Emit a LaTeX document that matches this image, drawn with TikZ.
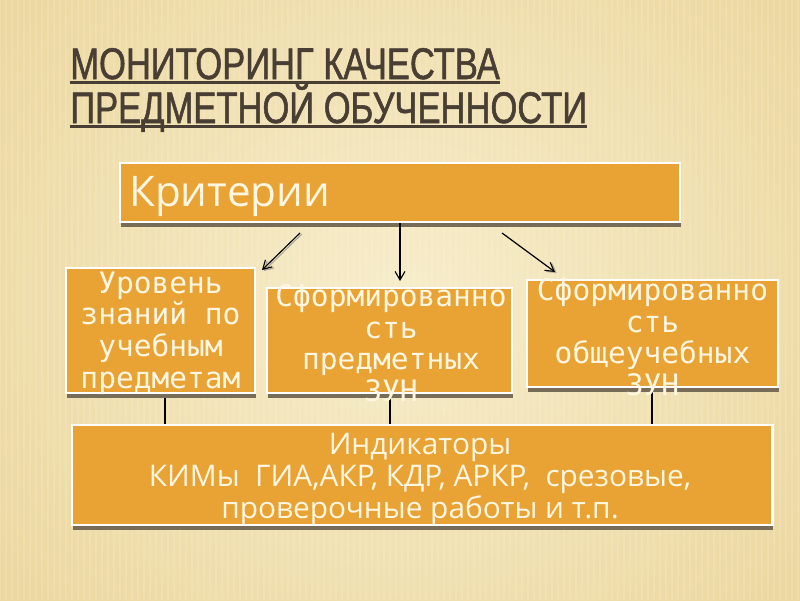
\documentclass[tikz,border=0pt]{standalone}
\usepackage{fontspec}
\usetikzlibrary{arrows.meta,shadows,calc}
\newfontfamily\titlefont[FakeStretch=0.78,FakeBold=1.2]{Liberation Sans}
\newfontfamily\boxfont{DejaVu Sans Mono}
\newfontfamily\osfont{Open Sans}
\definecolor{bgin}{RGB}{247,237,202}
\definecolor{bgout}{RGB}{236,216,160}
\definecolor{orangec}{RGB}{233,162,52}
\definecolor{titlec}{RGB}{72,62,52}
\definecolor{shadowc}{RGB}{118,108,88}
\definecolor{textc}{RGB}{253,246,225}
\begin{document}
\begin{tikzpicture}[x=0.025cm,y=-0.025cm,
  box/.style={draw=white, line width=2pt, fill=orangec,
    drop shadow={shadow xshift=0.8pt, shadow yshift=-3.8pt, fill=shadowc, opacity=1},
    inner sep=0pt},
  btext/.style={text=textc, align=center, inner sep=0pt,
    font=\boxfont\fontsize{21}{22.5}\selectfont},
  itext/.style={text=textc, align=center, inner sep=0pt,
    font=\osfont\fontsize{21.2}{22.8}\selectfont},
  ttext/.style={anchor=base west, inner sep=0pt, text=titlec,
    font=\titlefont\fontsize{31.5}{34}\selectfont},
  uline/.style={titlec, line width=2.1pt},
  conn/.style={black, line width=0.8pt},
  arr/.style={conn, -{Straight Barb[length=6pt,width=7pt]}},
  arrsh/.style={shadowc!60, line width=0.8pt, -{Straight Barb[length=6pt,width=7pt]},
    transform canvas={xshift=1.2pt,yshift=-0.8pt}}
]
\useasboundingbox (0,0) rectangle (800,600);
\shade[inner color=bgin, outer color=bgout] (-100,-150) rectangle (900,750);
\foreach \i in {0,6,...,800} {\draw[white, opacity=0.12, line width=1pt] (\i,0) -- (\i,600);}

% title
\node[ttext] (ti1) at (70,79) {МОНИТОРИНГ КАЧЕСТВА};
\node[ttext] (ti2) at (70,123) {ПРЕДМЕТНОЙ ОБУЧЕННОСТИ};
\draw[uline] ([yshift=-2.6pt]ti1.base west) -- ([yshift=-2.6pt]ti1.base east);
\draw[uline] ([yshift=-2.6pt]ti2.base west) -- ([yshift=-2.6pt]ti2.base east);

% boxes
\node[box, minimum width=14cm, minimum height=1.475cm] (crit) at (400,192.5) {};
\node[box, minimum width=4.725cm, minimum height=3.125cm] (b1) at (160.5,330.5) {};
\node[box, minimum width=6.125cm, minimum height=2.625cm] (b2) at (389.5,340.5) {};
\node[box, minimum width=6.275cm, minimum height=2.675cm] (b3) at (652.5,333.5) {};
\node[box, minimum width=17.5cm, minimum height=2.5cm] (ind) at (422,475) {};

% arrows
\coordinate (a1s) at (300,233);
\coordinate (a1e) at (262,270);
\coordinate (a2e) at (400,281);
\coordinate (a3s) at (502,233);
\coordinate (a3e) at (555,272);
\draw[arrsh] (a1s) -- (a1e);
\draw[arrsh] (a3s) -- (a3e);
\draw[arr] (a1s) -- (a1e);
\draw[arr] (crit.south -| a2e) -- (a2e);
\draw[arr] (a3s) -- (a3e);

% connectors to indicators
\coordinate (c1) at (165,398);
\coordinate (c2) at (390,398);
\coordinate (c3) at (652,392);
\draw[conn] (c1) -- (c1 |- ind.north);
\draw[conn] (c2) -- (c2 |- ind.north);
\draw[conn] (c3) -- (c3 |- ind.north);

% texts
\node[anchor=base west, inner sep=0pt, text=textc,
  font=\osfont\fontsize{30}{32}\selectfont] (critt) at (129,206) {Критерии};
\node[btext] (t1) at (160.5,333) {Уровень\\знаний по\\учебным\\предметам};
\node[btext] (t2) at (391,343) {Сформированно\\сть\\предметных\\ЗУН};
\node[btext] (t3) at (652.5,337) {Сформированно\\сть\\общеучебных\\ЗУН};
\node[itext] (it) at (420,479) {Индикаторы\\КИМы\ \ ГИА,АКР, КДР, АРКР,\ \ срезовые,\\проверочные работы и т.п.};
\end{tikzpicture}
\end{document}
